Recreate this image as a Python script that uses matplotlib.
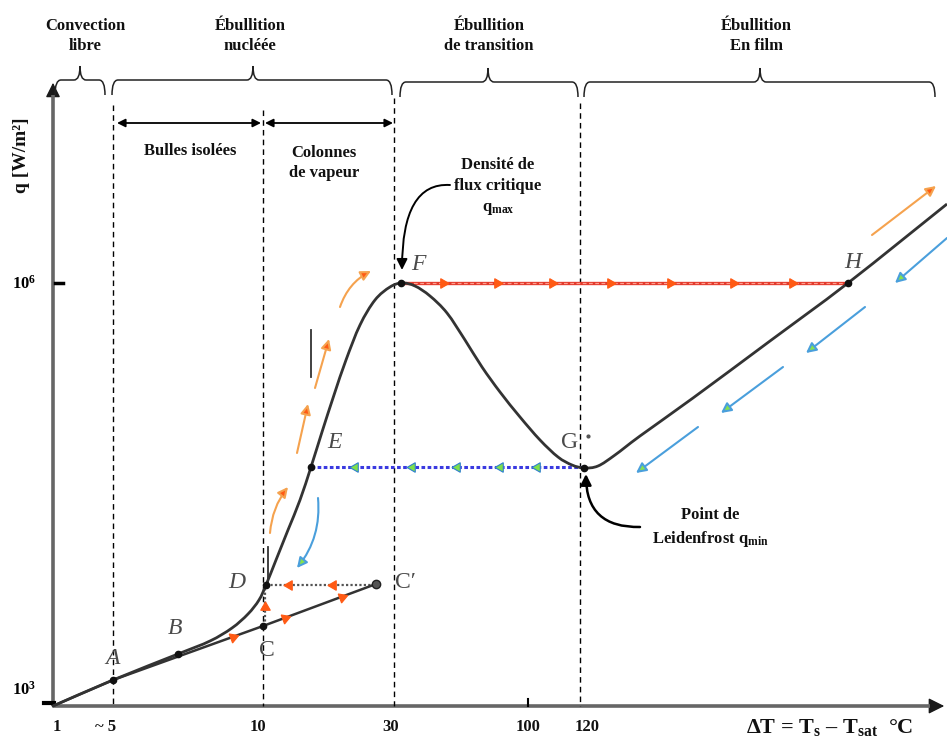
import numpy as np
import matplotlib
matplotlib.use('Agg')
from matplotlib import pyplot as plt
from matplotlib.path import Path
from matplotlib.patches import PathPatch, FancyArrowPatch

plt.rcParams['font.family'] = ['Liberation Serif', 'DejaVu Serif']
plt.rcParams['mathtext.fontset'] = 'custom'
plt.rcParams['mathtext.rm'] = 'Liberation Serif:bold'
plt.rcParams['mathtext.it'] = 'Liberation Serif:bold'
plt.rcParams['mathtext.bf'] = 'Liberation Serif:bold'

# Boiling curve (pixel units, y pointing down)
curve_x = [53, 113, 178, 210, 232, 248, 259, 266, 276, 288, 300, 311, 322,
           334, 346, 360, 375, 390, 402, 415, 430, 447, 465, 482, 500, 520,
           540, 558, 572, 584, 598, 615, 640, 693, 770, 848, 947]
curve_y = [706, 680, 654, 641, 628, 614, 600, 585, 560, 530, 500, 467, 432,
           395, 360, 325, 300, 287, 283, 286, 296, 313, 340, 367, 392, 417,
           440, 457, 465, 468, 466, 455, 436, 398, 341, 283, 204]

# Straight branch A -> C -> C'
lower_x = [53, 113, 263, 376]
lower_y = [706, 680, 626, 584]

point_names = ['A', 'B', 'C', 'D', 'C\u2032', 'E', 'F', 'G', 'H']
point_x = [113, 178, 263, 266, 376, 311, 401, 584, 848]
point_y = [680, 654, 626, 585, 584, 467, 283, 468, 283]
label_x = [112, 175, 267, 237, 405, 334, 418, 570, 853]
label_y = [659, 628, 650, 582, 583, 443, 264, 442, 262]
italic = [True, True, False, True, False, True, True, False, True]

tick_labels = ['1', '~ 5', '10', '30', '100', '120']
tick_x = [57, 106, 258, 391, 528, 587]

region_titles = ['Convection\nlibre', '\u00c9bullition\nnucl\u00e9\u00e9e',
                 '\u00c9bullition\nde transition', '\u00c9bullition\nEn film']
region_left = [55, 112, 400, 584]
region_right = [105, 392, 578, 935]
region_mid = [80, 253, 488, 760]
region_text_x = [85, 250, 489, 756]

boundary_x = [113, 263, 394, 580]
boundary_top = [105, 110, 98, 103]

# arrow marks along the hysteresis paths
red_fh_x = [443, 497, 552, 610, 670, 733, 792]
blue_eg_x = [355, 412, 457, 500, 537]
dc_x = [289, 333]
lower_arrow_x = [233, 285, 342]

orange_arrows = [((270, 533), (288, 487), -0.15), ((297, 453), (308, 404), 0.0),
                 ((315, 388), (329, 339), 0.0), ((340, 307), (371, 271), -0.2),
                 ((872, 235), (936, 186), 0.0)]
blue_arrows = [((318, 498), (297, 568), -0.2), ((947, 238), (895, 283), 0.0),
               ((865, 307), (806, 353), 0.0), ((783, 367), (721, 413), 0.0),
               ((698, 427), (636, 473), 0.0)]


def smooth_path(xs, ys):
    P = np.column_stack([xs, ys]).astype(float)
    n = len(P)
    verts = [P[0]]
    codes = [Path.MOVETO]
    for i in range(n - 1):
        p0 = P[max(i - 1, 0)]
        p1 = P[i]
        p2 = P[i + 1]
        p3 = P[min(i + 2, n - 1)]
        verts += [p1 + (p2 - p0) / 6, p2 - (p3 - p1) / 6, p2]
        codes += [Path.CURVE4] * 3
    return Path(verts, codes)


def brace(ax, x0, x1, xm, y, h_end=15, h_tip=14, r=6):
    v = [(x0, y + h_end), (x0, y), (x0 + r, y), (xm - r, y), (xm, y),
         (xm, y - h_tip), (xm, y), (xm + r, y), (x1 - r, y), (x1, y),
         (x1, y + h_end)]
    c = [Path.MOVETO, Path.CURVE3, Path.CURVE3, Path.LINETO, Path.CURVE3,
         Path.CURVE3, Path.CURVE3, Path.CURVE3, Path.LINETO, Path.CURVE3,
         Path.CURVE3]
    ax.add_patch(PathPatch(Path(v, c), fc='none', ec='#222', lw=1.1))


def tri(ax, x, y, deg, fc, ec, ms=8):
    ax.plot(x, y, marker=(3, 0, deg - 90), ms=ms, mfc=fc, mec=ec, mew=0.8,
            ls='none', zorder=6)


fig = plt.figure(figsize=(9.47, 7.42), dpi=100)
ax = fig.add_axes([0, 0, 1, 1])
ax.set_xlim(0, 947)
ax.set_ylim(742, 0)
ax.axis('off')

# axes with arrows
ax.plot([53, 53], [706, 95], color='#666', lw=2.6, solid_capstyle='butt')
ax.plot([53, 930], [706, 706], color='#666', lw=2.6, solid_capstyle='butt')
ax.add_patch(FancyArrowPatch((53, 100), (53, 80), arrowstyle='-|>',
                             mutation_scale=22, color='#1a1a1a', lw=1))
ax.add_patch(FancyArrowPatch((925, 706), (947, 706), arrowstyle='-|>',
                             mutation_scale=24, color='#1a1a1a', lw=1))
ax.plot([55, 63], [283, 283], color='black', lw=2.5)
ax.plot([44, 54], [703, 703], color='black', lw=3)
ax.plot([528, 528], [699, 706], color='black', lw=1.5)

# region boundaries
for bx, bt in zip(boundary_x, boundary_top):
    ax.plot([bx, bx], [bt, 706], color='black', lw=1, ls=(0, (4, 3)))

# region braces and titles
for t, l, r, m, tx in zip(region_titles, region_left, region_right,
                          region_mid, region_text_x):
    brace(ax, l, r, m, 80 if l < 300 else 82)
    ax.text(tx, 36, t, ha='center', va='center', fontsize=12,
            fontweight='bold', linespacing=1.35, color='#111')

# sub-region arrows
for a, b in [(117, 261), (265, 393)]:
    ax.add_patch(FancyArrowPatch((a, 123), (b, 123), arrowstyle='<|-|>',
                                 mutation_scale=12, color='black', lw=1.3,
                                 shrinkA=0, shrinkB=0))
ax.text(190, 151, 'Bulles isol\u00e9es', ha='center', va='center',
        fontsize=12, fontweight='bold', color='#111')
ax.text(324, 163, 'Colonnes\nde vapeur', ha='center', va='center',
        fontsize=12, fontweight='bold', linespacing=1.35, color='#111')

# curves
ax.add_patch(PathPatch(smooth_path(curve_x, curve_y), fc='none',
                       ec='#333', lw=2.0, zorder=4))
ax.plot(lower_x, lower_y, color='#333', lw=1.8, zorder=4)

# hysteresis lines
ax.plot([401, 848], [283, 283], color='#e33a2c', lw=2.4, zorder=3)
ax.plot([401, 848], [283, 283], color='#ff9d8e', lw=0.9,
        ls=(0, (3, 2)), zorder=3)
ax.plot([311, 584], [467, 467], color='#3a3ae0', lw=2.2,
        ls=(0, (1.2, 0.8)), zorder=3)
ax.plot([266, 376], [585, 585], color='#555', lw=1.6,
        ls=(0, (1, 1)), zorder=3)
ax.plot([265, 265], [626, 585], color='#555', lw=1.6,
        ls=(0, (1, 1)), zorder=3)
ax.plot([268, 268], [547, 582], color='#333', lw=1.3)
ax.plot([311, 311], [330, 377], color='#333', lw=1.3)

for x in red_fh_x:
    tri(ax, x, 283, 0, '#ff5a14', '#ff5a14')
for x in blue_eg_x:
    tri(ax, x, 467, 180, '#7ee04a', '#2f7fd0')
for x in dc_x:
    tri(ax, x, 585, 180, '#ff5a14', '#ff5a14')
tri(ax, 265, 607, 90, '#ff5a14', '#ff5a14')
ang = np.degrees(np.arctan2(626 - 584, 376 - 263))
for x in lower_arrow_x:
    tri(ax, x, 626 + (x - 263) * (584 - 626) / (376 - 263), ang,
        '#ff5a14', '#ff5a14')

for p, q, rad in orange_arrows:
    ax.add_patch(FancyArrowPatch(p, q, arrowstyle='-|>', mutation_scale=15,
                                 connectionstyle=f'arc3,rad={rad}',
                                 ec='#f5a24e', fc='#ff5a14', lw=1.5,
                                 shrinkA=0, shrinkB=0, zorder=5))
for p, q, rad in blue_arrows:
    ax.add_patch(FancyArrowPatch(p, q, arrowstyle='-|>', mutation_scale=15,
                                 connectionstyle=f'arc3,rad={rad}',
                                 ec='#4a9fdc', fc='#86e24e', lw=1.5,
                                 shrinkA=0, shrinkB=0, zorder=5))

# points and labels
for n, px, py, lx, ly, it in zip(point_names, point_x, point_y, label_x,
                                 label_y, italic):
    if n == 'C\u2032':
        ax.plot(px, py, 'o', ms=6, mfc='#555', mec='#222', zorder=7)
    else:
        ax.plot(px, py, 'o', ms=4.5, color='#111', zorder=7)
    ax.text(lx, ly, n, ha='center', va='center', fontsize=17,
            style='italic' if it else 'normal', color='#4a4a4a')
ax.plot(588, 436, 'o', ms=2, color='#555')

# annotations
ax.add_patch(FancyArrowPatch(path=Path([(450, 185), (402, 182), (402, 270)],
                                       [Path.MOVETO, Path.CURVE3, Path.CURVE3]),
                             arrowstyle='-|>', mutation_scale=16,
                             color='black', lw=1.4))
ax.text(498, 187, 'Densit\u00e9 de\nflux critique\nq$_{\\rm max}$',
        ha='center', va='center', fontsize=12, fontweight='bold',
        linespacing=1.4, color='#111')
ax.add_patch(FancyArrowPatch(path=Path([(640, 527), (586, 528), (586, 474)],
                                       [Path.MOVETO, Path.CURVE3, Path.CURVE3]),
                             arrowstyle='-|>', mutation_scale=16,
                             color='black', lw=1.8))
ax.text(710, 528, 'Point de\nLeidenfrost q$_{\\rm min}$', ha='center',
        va='center', fontsize=12, fontweight='bold', linespacing=1.45,
        color='#111')

# axis labels
ax.text(21, 155, 'q [W/m\u00b2]', rotation=90, ha='center', va='center',
        fontsize=14, fontweight='bold', color='#111')
ax.text(24, 284, '10$^{6}$', ha='center', va='center', fontsize=12,
        fontweight='bold')
ax.text(24, 690, '10$^{3}$', ha='center', va='center', fontsize=12,
        fontweight='bold')
for t, x in zip(tick_labels, tick_x):
    ax.text(x, 727, t, ha='center', va='center', fontsize=12,
            fontweight='bold', color='#111')
ax.text(830, 728, '\u0394T = T$_{\\rm s}$ \u2013 T$_{\\rm sat}$  \u00b0C',
        ha='center', va='center', fontsize=16, fontweight='bold',
        color='#111')

fig.savefig('out.png', dpi=100)
